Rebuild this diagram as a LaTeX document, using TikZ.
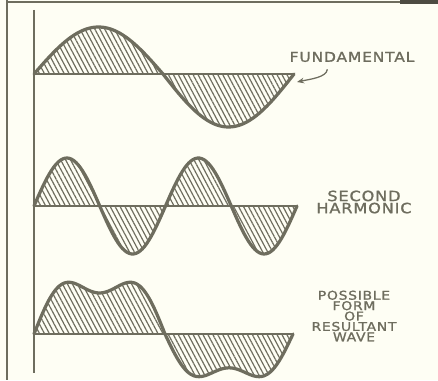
\documentclass[tikz,border=0pt]{standalone}
\usepackage{fontspec}
\usepackage{tikz}
\usetikzlibrary{arrows.meta, patterns.meta}
\newfontfamily\wavefont[FakeStretch=1.15, FakeBold=1.2, LetterSpace=6]{DejaVu Sans}
\definecolor{ink}{HTML}{6E6D5E}
\definecolor{paper}{HTML}{FEFEF4}

\begin{document}
\begin{tikzpicture}[x=0.025cm, y=-0.025cm, font=\wavefont\fontsize{9.6}{8}\selectfont,
  wave/.style={ink, line width=2.3pt, line join=round, line cap=round},
  zeroline/.style={ink, line width=1.4pt},
  hatch/.style={pattern={Lines[angle=-62, distance=3.1pt, line width=0.85pt]}, pattern color=ink},
  tag/.style={ink, align=center, inner sep=0pt}]
  \fill[paper] (0,0) rectangle (438,380);
  \useasboundingbox (0,0) rectangle (438,380);
  % edges of the plate
  \draw[ink, line width=1.6pt] (7,0) -- (7,380);
  \draw[ink, line width=0.8pt] (7,2) -- (400,2);
  \fill[ink!70!black] (400,0) rectangle (438,4);
  % common time axis
  \draw[zeroline] (34,10) -- (34,373);
  % Fundamental
  \coordinate (fundStart) at (34,74);
  \coordinate (fundEnd) at (294,74);
  \fill[hatch] (fundStart) -- plot[domain=0:180, samples=50] ({34+\x/180*129}, {74-47*sin(\x)})
    -- plot[domain=180:360, samples=50] ({163+(\x-180)/180*131}, {74-53*sin(\x)}) -- cycle;
  \draw[zeroline] (fundStart) -- (fundEnd);
  \draw[wave] plot[domain=0:180, samples=50] ({34+\x/180*129}, {74-47*sin(\x)})
    -- plot[domain=180:360, samples=50] ({163+(\x-180)/180*131}, {74-53*sin(\x)});
  % Second harmonic
  \coordinate (secondStart) at (34,206);
  \coordinate (secondEnd) at (297,206);
  \fill[hatch] (secondStart) -- plot[domain=0:720, samples=120] ({34+\x/720*263}, {206-48*sin(\x)}) -- cycle;
  \draw[zeroline] (secondStart) -- (secondEnd);
  \draw[wave] plot[domain=0:720, samples=120] ({34+\x/720*263}, {206-48*sin(\x)});
  % Resultant
  \coordinate (resultStart) at (34,334);
  \coordinate (resultEnd) at (293,334);
  \fill[hatch] (resultStart) -- plot[domain=0:180, samples=80] ({34+\x/180*131}, {334-57*(sin(\x)+0.28*sin(3*\x))})
    -- plot[domain=180:360, samples=80] ({165+(\x-180)/180*128}, {334-47*(sin(\x)+0.28*sin(3*\x))}) -- cycle;
  \draw[zeroline] (resultStart) -- (resultEnd);
  \draw[wave] plot[domain=0:180, samples=80] ({34+\x/180*131}, {334-57*(sin(\x)+0.28*sin(3*\x))})
    -- plot[domain=180:360, samples=80] ({165+(\x-180)/180*128}, {334-47*(sin(\x)+0.28*sin(3*\x))});
  % labels
  \node[tag] (fundLabel) at (352,57) {FUNDAMENTAL};
  \node[tag, font=\wavefont\fontsize{10}{8.6}\selectfont] (secondLabel) at (364,202) {SECOND\\HARMONIC};
  \node[tag, font=\wavefont\fontsize{8.6}{7.4}\selectfont] (resultLabel) at (354,316) {POSSIBLE\\FORM\\OF\\RESULTANT\\WAVE};
  \coordinate (fundTip) at (297,82);
  \draw[ink, line width=0.9pt, -{Stealth[length=5pt, width=4pt]}] ([xshift=27pt, yshift=-5pt]fundLabel.south west)
    .. controls +(-1,8) and +(14,-3) .. (fundTip);
\end{tikzpicture}
\end{document}
